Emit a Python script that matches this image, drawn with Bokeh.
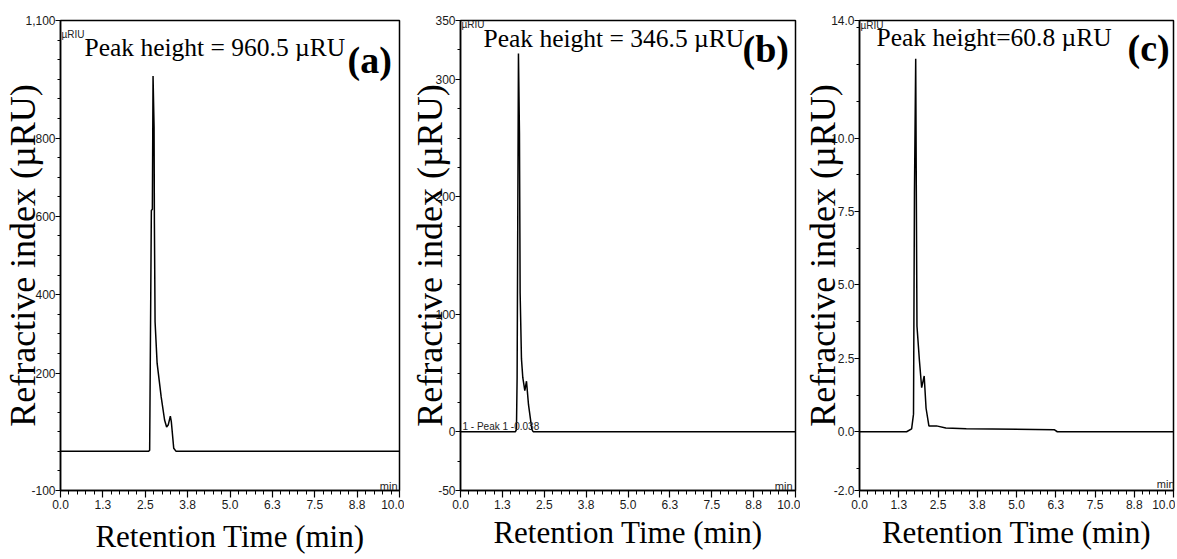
from bokeh.plotting import figure
from bokeh.layouts import row
from bokeh.models import FixedTicker, Label, Range1d
from bokeh.embed import file_html
from bokeh.resources import INLINE

# ---------------- data ----------------
time_a = [0.0, 2.60, 2.63, 2.68, 2.71, 2.73, 2.76, 2.77, 2.79, 2.85, 2.97, 3.07, 3.13, 3.18, 3.24, 3.27, 3.34, 3.41, 10.0]
signal_a = [0, 0, 3, 615, 618, 958, 828, 582, 330, 225, 139, 80, 62, 68, 90, 75, 8, 0, 0]

time_b = [0.0, 1.64, 1.67, 1.69, 1.73, 1.76, 1.78, 1.82, 1.86, 1.92, 1.97, 2.03, 2.13, 2.17, 10.0]
signal_b = [0, 0, 2, 46, 322, 254, 118, 62, 46, 35, 43, 23, 2, 0, 0]

time_c = [0.0, 1.50, 1.66, 1.72, 1.75, 1.79, 1.81, 1.83, 1.91, 1.98, 2.06, 2.12, 2.21, 2.45, 2.75, 3.40, 6.20, 6.30, 10.0]
signal_c = [0.0, 0.0, 0.1, 0.6, 8.1, 12.7, 8.1, 3.6, 2.4, 1.5, 1.9, 0.8, 0.2, 0.2, 0.13, 0.1, 0.07, 0.0, 0.0]

x_ticks = [0.0, 1.25, 2.5, 3.75, 5.0, 6.25, 7.5, 8.75, 10.0]
x_tick_labels = ["0.0", "1.3", "2.5", "3.8", "5.0", "6.3", "7.5", "8.8", "10.0"]
x_minor_ticks = [0.0, 0.25, 0.5, 0.75, 1.0, 1.25, 1.5, 1.75, 2.0, 2.25, 2.5, 2.75, 3.0, 3.25,
                 3.5, 3.75, 4.0, 4.25, 4.5, 4.75, 5.0, 5.25, 5.5, 5.75, 6.0, 6.25, 6.5, 6.75,
                 7.0, 7.25, 7.5, 7.75, 8.0, 8.25, 8.5, 8.75, 9.0, 9.25, 9.5, 9.75, 10.0]

y_range_a = (-100, 1100)
y_ticks_a = [-100, 200, 400, 600, 800, 1100]
y_tick_labels_a = ["-100", "200", "400", "600", "800", "1,100"]
y_minor_a = [-100, -50, 0, 50, 100, 150, 200, 250, 300, 350, 400, 450, 500, 550, 600,
             650, 700, 750, 800, 850, 900, 950, 1000, 1050, 1100]

y_range_b = (-50, 350)
y_ticks_b = [-50, 0, 100, 200, 300, 350]
y_tick_labels_b = ["-50", "0", "100", "200", "300", "350"]
y_minor_b = [-50, -25, 0, 25, 50, 75, 100, 125, 150, 175, 200, 225, 250, 275, 300, 325, 350]

y_range_c = (-2.0, 14.0)
y_ticks_c = [-2.0, 0.0, 2.5, 5.0, 7.5, 10.0, 14.0]
y_tick_labels_c = ["-2.0", "0.0", "2.5", "5.0", "7.5", "10.0", "14.0"]
y_minor_c = [-1.25, 0.0, 1.25, 2.5, 3.75, 5.0, 6.25, 7.5, 8.75, 10.0, 11.25, 12.5, 13.75]

peak_notes = ["Peak height = 960.5 \u00b5RU", "Peak height = 346.5 \u00b5RU", "Peak height=60.8 \u00b5RU"]
panel_tags = ["(a)", "(b)", "(c)"]
x_title = "Retention Time (min)"
y_title = "Refractive index (\u00b5RU)"
unit_text = "\u00b5RIU"
min_text = "min"
peak_marker_text = "1 - Peak 1 -0.038"

SERIF = "Liberation Serif"
SANS = "Liberation Sans"
H = 557


def screen_label(p, x, y, text, **kw):
    p.add_layout(Label(x=x, y=y, x_units="screen", y_units="screen", text=text, **kw))


def make_panel(t, s, yr, yt, ytl, ymin, width, left, right, top, frame_h,
               note, note_xy, tag, tag_xy, x_std, y_std, unit_xy, min_xy):
    frame_w = width - left - right
    p = figure(width=width, height=H, x_range=Range1d(0, 10), y_range=Range1d(*yr),
               output_backend="svg", toolbar_location=None,
               min_border_left=left, min_border_right=right, min_border_top=top,
               min_border_bottom=H - top - frame_h)
    p.line(t, s, line_color="black", line_width=1.5)
    p.grid.visible = False
    p.outline_line_color = "black"
    p.outline_line_width = 1.5
    p.outline_line_alpha = 1.0
    p.background_fill_color = "white"
    p.border_fill_color = "white"

    xa = p.xaxis[0]
    xa.ticker = FixedTicker(ticks=x_ticks, minor_ticks=x_minor_ticks)
    xa.major_label_overrides = {float(k): v for k, v in zip(x_ticks, x_tick_labels)}
    ya = p.yaxis[0]
    ya.ticker = FixedTicker(ticks=yt, minor_ticks=ymin)
    ya.major_label_overrides = {float(k): v for k, v in zip(yt, ytl)}
    for ax in (xa, ya):
        ax.axis_line_color = "black"
        ax.axis_line_width = 1.5
        ax.major_tick_line_color = "black"
        ax.minor_tick_line_color = "black"
        ax.major_tick_line_width = 1.2
        ax.minor_tick_line_width = 1.0
        ax.major_tick_in = 0
        ax.minor_tick_in = 0
        ax.major_label_text_font = SANS
        ax.major_label_text_font_size = "12px"
        ax.major_label_text_color = "#1a1a1a"
        ax.axis_label_text_font = SERIF
        ax.axis_label_text_font_style = "normal"
        ax.axis_label_text_color = "black"
    xa.major_tick_out = 7
    xa.minor_tick_out = 4
    xa.major_label_standoff = 2
    ya.major_tick_out = 5
    ya.minor_tick_out = 3
    ya.major_label_standoff = 0

    xa.axis_label = x_title
    xa.axis_label_text_font_size = "31px"
    xa.axis_label_standoff = x_std
    ya.axis_label = y_title
    ya.axis_label_text_font_size = "36px"
    ya.axis_label_standoff = y_std

    # annotations inside frame
    screen_label(p, note_xy[0], note_xy[1], note, text_font=SERIF, text_font_size="25.5px",
                 text_align="left", text_baseline="alphabetic", text_color="black")
    screen_label(p, tag_xy[0], tag_xy[1], tag, text_font=SERIF, text_font_size="38px",
                 text_font_style="bold", text_align="left", text_baseline="alphabetic",
                 text_color="black")
    screen_label(p, unit_xy[0], unit_xy[1], unit_text, text_font=SANS, text_font_size="10px",
                 text_align="left", text_baseline="alphabetic", text_color="#222222")
    screen_label(p, frame_w - 3 + min_xy[0], min_xy[1], min_text, text_font=SANS,
                 text_font_size="11px", text_align="right", text_baseline="alphabetic",
                 text_color="#222222")
    return p


pa = make_panel(time_a, signal_a, y_range_a, y_ticks_a, y_tick_labels_a, y_minor_a,
                width=404, left=59, right=5, top=20, frame_h=470,
                note=peak_notes[0], note_xy=(24, 443), tag=panel_tags[0], tag_xy=(287, 431),
                x_std=7, y_std=-21, unit_xy=(1, 456), min_xy=(0, 5))

pb = make_panel(time_b, signal_b, y_range_b, y_ticks_b, y_tick_labels_b, y_minor_b,
                width=396, left=56, right=5, top=17, frame_h=477,
                note=peak_notes[1], note_xy=(23, 452), tag=panel_tags[1], tag_xy=(282, 442),
                x_std=3, y_std=-18, unit_xy=(1, 466), min_xy=(0, 5))
screen_label(pb, 2, 64, peak_marker_text, text_font=SANS, text_font_size="10px",
             text_align="left", text_baseline="alphabetic", text_color="#222222")

pc = make_panel(time_c, signal_c, y_range_c, y_ticks_c, y_tick_labels_c, y_minor_c,
                width=375, left=55, right=2, top=17, frame_h=478,
                note=peak_notes[2], note_xy=(17, 453), tag=panel_tags[2], tag_xy=(268, 443),
                x_std=3, y_std=-15, unit_xy=(1, 465), min_xy=(0, 7))

layout = row(pa, pb, pc, spacing=0)

with open("out.html", "w") as f:
    f.write(file_html(layout, INLINE))
